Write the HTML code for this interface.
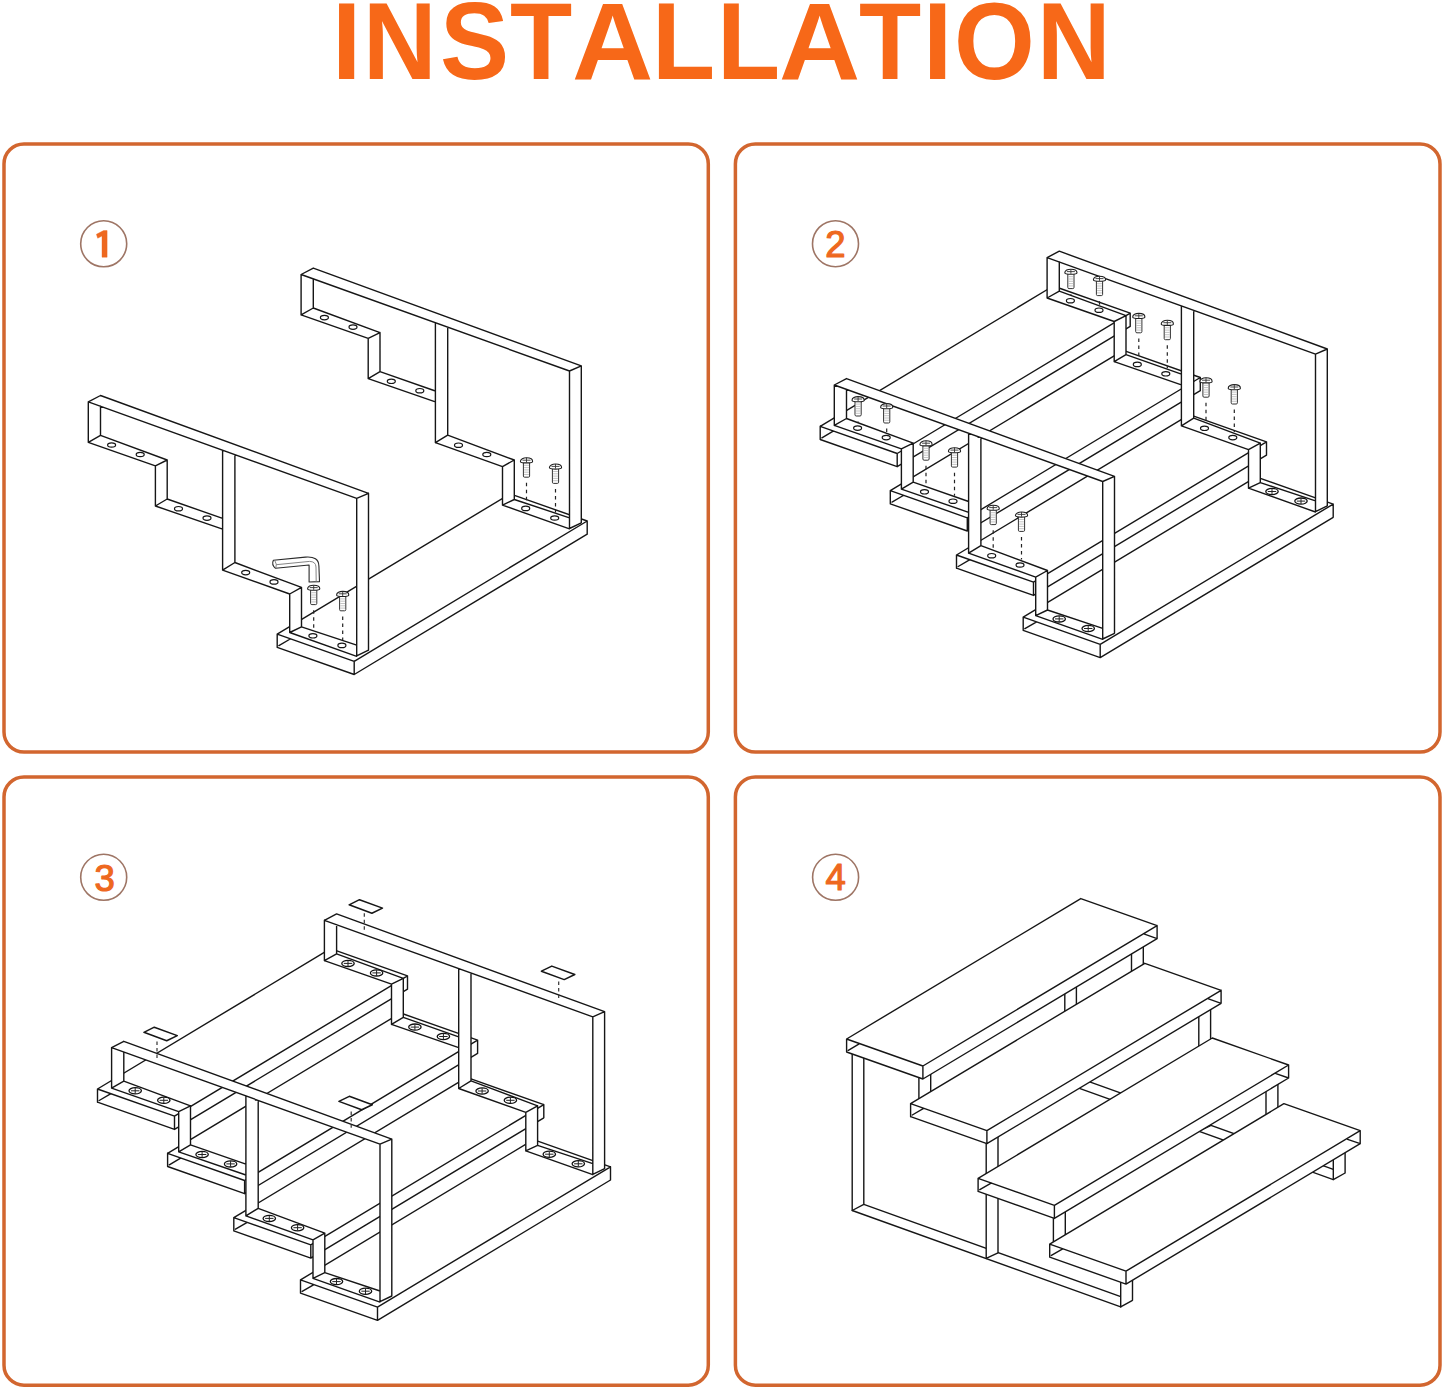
<!DOCTYPE html>
<html><head><meta charset="utf-8">
<style>
html,body{margin:0;padding:0;background:#fff;}
body{width:1445px;height:1390px;position:relative;overflow:hidden;font-family:"Liberation Sans",sans-serif;}
#title span{position:absolute;top:-13.8px;font-weight:bold;font-size:110px;color:#F76818;white-space:nowrap;line-height:1;transform-origin:0 0;}
svg{position:absolute;left:0;top:0;}
.n{font-family:"Liberation Sans",sans-serif;font-weight:normal;font-size:36.5px;fill:#EE681F;stroke:#EE681F;stroke-width:1.2px;stroke-linejoin:round;}
.wf{fill:#fff;stroke:none;}
.ln{fill:none;stroke:#161616;stroke-width:1.4;stroke-linejoin:round;stroke-linecap:round;}
.hl{fill:#fff;stroke:#161616;stroke-width:1.2;}
.pd{fill:#fff;stroke:#161616;stroke-width:1.5;stroke-linejoin:round;}
.ds2{fill:none;stroke:#333;stroke-width:1.2;stroke-dasharray:3.5,3;}
.ds{fill:none;stroke:#222;stroke-width:1.2;stroke-dasharray:3.5,3.5;}
</style></head><body>
<div id="title"><span style="left:331.9px;transform:scaleX(0.956)">I</span><span style="left:363.1px;transform:scaleX(0.926)">N</span><span style="left:439.5px;transform:scaleX(0.941)">S</span><span style="left:510.3px;transform:scaleX(0.926)">T</span><span style="left:571.7px;transform:scaleX(1.023)">A</span><span style="left:652.4px;transform:scaleX(0.939)">L</span><span style="left:717.4px;transform:scaleX(0.939)">L</span><span style="left:778.5px;transform:scaleX(1.022)">A</span><span style="left:859.2px;transform:scaleX(0.926)">T</span><span style="left:923.1px;transform:scaleX(0.956)">I</span><span style="left:954.2px;transform:scaleX(0.944)">O</span><span style="left:1036.7px;transform:scaleX(0.926)">N</span></div>
<svg width="1445" height="1390" viewBox="0 0 1445 1390">
<defs>
<g id="screw">
<path d="M-3.1,2L-3.1,15.2Q-3.1,16.4 -1.9,16.4L1.9,16.4Q3.1,16.4 3.1,15.2L3.1,2" fill="#fff" stroke="#333" stroke-width="1"/>
<path d="M-2.4,4.5h4.8M-2.4,6.8h4.8M-2.4,9.1h4.8M-2.4,11.4h4.8M-2.4,13.7h4.8" stroke="#aaa" stroke-width="0.7"/>
<path d="M-6.1,0.6C-6.1,-4.2 6.1,-4.2 6.1,0.6C6.1,2.6 -6.1,2.6 -6.1,0.6Z" fill="#fff" stroke="#1e1e1e" stroke-width="1.1"/>
<path d="M-4,-0.6h8M0,-3v4.6" stroke="#333" stroke-width="0.9"/>
</g>
<g id="head">
<ellipse cx="0" cy="0" rx="6.2" ry="3.1" fill="#fff" stroke="#111" stroke-width="1.3"/>
<path d="M-4.2,0h8.4M0,-2.8v5.6" stroke="#222" stroke-width="1"/>
</g>
</defs>
<g fill="none" stroke="#D2662F" stroke-width="3.5">
<rect x="4" y="144" width="704.3" height="608" rx="20"/>
<rect x="735.4" y="144" width="704.6" height="608" rx="20"/>
<rect x="4" y="777" width="704.3" height="608.2" rx="20"/>
<rect x="735.4" y="777" width="704.6" height="608.2" rx="20"/>
</g>
<g fill="none" stroke="#9E7565" stroke-width="1.6">
<circle cx="103.7" cy="243.8" r="23"/>
<circle cx="835.5" cy="243.7" r="23"/>
<circle cx="103.7" cy="877.3" r="23"/>
<circle cx="835.6" cy="877.3" r="23"/>
</g>
<path d="M96.4,234.3L103.6,230.6L107.1,230.6L107.1,257.2L102,257.2L102,236L97.7,238.2Z" fill="#EE681F" stroke="#EE681F" stroke-width="0.4"/>
<text class="n" x="835.5" y="256.5" text-anchor="middle">2</text>
<text class="n" x="104.7" y="890.5" text-anchor="middle">3</text>
<text class="n" x="835.6" y="890.2" text-anchor="middle">4</text>
<!-- P1 -->
<polygon class="wf" points="277.2,634.1 277.2,647.3 354.2,674.5 587.2,534.2 587.2,521.0 510.2,493.8"/>
<path class="ln" d="M277.2,634.1L354.2,661.3M354.2,661.3L354.2,674.5M354.2,674.5L277.2,647.3M277.2,647.3L277.2,634.1M278.9,645.6L290.2,639.0M277.2,634.1L510.2,493.8M354.2,661.3L587.2,521.0M354.2,674.5L587.2,534.2M587.2,521.0L587.2,534.2M510.2,493.8L587.2,521.0"/>
<polygon class="wf" points="301.1,274.5 313.3,268.1 581.3,365.9 569.5,371.0"/>
<polygon class="wf" points="301.1,274.5 313.3,278.9 313.3,308.0 301.1,314.9"/>
<polygon class="wf" points="301.1,314.9 313.3,308.0 380.0,332.6 368.2,338.4"/>
<polygon class="wf" points="368.2,338.4 380.0,332.6 380.0,371.6 368.2,378.6"/>
<polygon class="wf" points="368.2,378.6 380.0,371.6 435.4,391.0 435.4,401.8"/>
<polygon class="wf" points="435.4,323.2 447.7,328.5 447.7,435.1 435.4,442.7"/>
<polygon class="wf" points="435.4,442.7 447.7,435.1 514.3,460.0 502.5,466.6"/>
<polygon class="wf" points="502.5,466.6 514.3,460.0 514.3,499.5 502.5,505.1"/>
<polygon class="wf" points="502.5,505.1 514.3,499.5 569.5,517.8 569.5,528.9"/>
<polygon class="wf" points="569.5,371.0 581.3,365.9 581.3,522.8 569.5,528.5"/>
<path class="ln" d="M313.3,268.1L581.3,365.9M301.1,274.5L569.5,371.0M301.1,274.5L313.3,268.1M569.5,371.0L581.3,365.9M301.1,274.5L301.1,314.9M313.3,278.9L313.3,308.0M301.1,314.9L313.3,308.0M313.3,308.0L380.0,332.6M301.1,314.9L368.2,338.4M368.2,338.4L380.0,332.6M368.2,338.4L368.2,378.6M380.0,332.6L380.0,371.6M368.2,378.6L380.0,371.6M380.0,371.6L435.4,391.0M368.2,378.6L435.4,401.8M435.4,323.2L435.4,442.7M447.7,328.5L447.7,435.1M435.4,442.7L447.7,435.1M447.7,435.1L514.3,460.0M435.4,442.7L502.5,466.6M502.5,466.6L514.3,460.0M502.5,466.6L502.5,505.1M514.3,460.0L514.3,499.5M502.5,505.1L514.3,499.5M514.3,499.5L569.5,517.8M502.5,505.1L569.5,528.9M569.5,371.0L569.5,528.5M581.3,365.9L581.3,522.8M569.5,528.5L581.3,522.8"/>
<ellipse class="hl" cx="324.4" cy="317.6" rx="4" ry="2.2"/>
<ellipse class="hl" cx="353.0" cy="327.1" rx="4" ry="2.2"/>
<ellipse class="hl" cx="391.3" cy="381.3" rx="4" ry="2.2"/>
<ellipse class="hl" cx="419.8" cy="390.7" rx="4" ry="2.2"/>
<ellipse class="hl" cx="458.5" cy="445.2" rx="4" ry="2.2"/>
<ellipse class="hl" cx="486.8" cy="454.5" rx="4" ry="2.2"/>
<ellipse class="hl" cx="525.7" cy="508.4" rx="4" ry="2.2"/>
<ellipse class="hl" cx="554.7" cy="518.0" rx="4" ry="2.2"/>
<polygon class="wf" points="88.3,401.9 100.5,395.5 368.5,493.3 356.7,498.4"/>
<polygon class="wf" points="88.3,401.9 100.5,406.3 100.5,435.4 88.3,442.3"/>
<polygon class="wf" points="88.3,442.3 100.5,435.4 167.2,460.0 155.4,465.8"/>
<polygon class="wf" points="155.4,465.8 167.2,460.0 167.2,499.0 155.4,506.0"/>
<polygon class="wf" points="155.4,506.0 167.2,499.0 222.6,518.4 222.6,529.2"/>
<polygon class="wf" points="222.6,450.6 234.9,455.9 234.9,562.5 222.6,570.1"/>
<polygon class="wf" points="222.6,570.1 234.9,562.5 301.5,587.4 289.7,594.0"/>
<polygon class="wf" points="289.7,594.0 301.5,587.4 301.5,626.9 289.7,632.5"/>
<polygon class="wf" points="289.7,632.5 301.5,626.9 356.7,645.2 356.7,656.3"/>
<polygon class="wf" points="356.7,498.4 368.5,493.3 368.5,650.2 356.7,655.9"/>
<path class="ln" d="M100.5,395.5L368.5,493.3M88.3,401.9L356.7,498.4M88.3,401.9L100.5,395.5M356.7,498.4L368.5,493.3M88.3,401.9L88.3,442.3M100.5,406.3L100.5,435.4M88.3,442.3L100.5,435.4M100.5,435.4L167.2,460.0M88.3,442.3L155.4,465.8M155.4,465.8L167.2,460.0M155.4,465.8L155.4,506.0M167.2,460.0L167.2,499.0M155.4,506.0L167.2,499.0M167.2,499.0L222.6,518.4M155.4,506.0L222.6,529.2M222.6,450.6L222.6,570.1M234.9,455.9L234.9,562.5M222.6,570.1L234.9,562.5M234.9,562.5L301.5,587.4M222.6,570.1L289.7,594.0M289.7,594.0L301.5,587.4M289.7,594.0L289.7,632.5M301.5,587.4L301.5,626.9M289.7,632.5L301.5,626.9M301.5,626.9L356.7,645.2M289.7,632.5L356.7,656.3M356.7,498.4L356.7,655.9M368.5,493.3L368.5,650.2M356.7,655.9L368.5,650.2"/>
<ellipse class="hl" cx="111.6" cy="445.0" rx="4" ry="2.2"/>
<ellipse class="hl" cx="140.2" cy="454.5" rx="4" ry="2.2"/>
<ellipse class="hl" cx="178.5" cy="508.7" rx="4" ry="2.2"/>
<ellipse class="hl" cx="207.0" cy="518.1" rx="4" ry="2.2"/>
<ellipse class="hl" cx="245.7" cy="572.6" rx="4" ry="2.2"/>
<ellipse class="hl" cx="274.0" cy="581.9" rx="4" ry="2.2"/>
<ellipse class="hl" cx="312.9" cy="635.8" rx="4" ry="2.2"/>
<ellipse class="hl" cx="341.9" cy="645.4" rx="4" ry="2.2"/>
<path class="ds" d="M313.7,610.2L313.7,630.3"/>
<use href="#screw" x="313.7" y="588.2"/>
<path class="ds" d="M526.5,482.8L526.5,502.9"/>
<use href="#screw" x="526.5" y="460.8"/>
<path class="ds" d="M342.7,616.4L342.7,639.9"/>
<use href="#screw" x="342.7" y="594.4"/>
<path class="ds" d="M555.5,489.0L555.5,512.5"/>
<use href="#screw" x="555.5" y="467.0"/>
<path d="M273.4,560.2L305.4,557.1Q318.7,556 318.9,566L319.5,581.6L309.1,582L309.1,565L275.5,568.3Q271.2,564.5 273.4,560.2Z" fill="#fff" stroke="#2a2a2a" stroke-width="1.1" stroke-linejoin="round"/>
<path d="M276.3,564.7L309.5,561.4Q315.8,561.5 316,567L316.2,582M274.6,560.1Q277.4,564.3 275.8,568.2" fill="none" stroke="#777" stroke-width="0.9"/>
<!-- P2 -->
<polygon class="wf" points="820.2,426.3 820.2,439.5 897.2,466.7 1130.2,326.4 1130.2,313.2 1053.2,286.0"/>
<path class="ln" d="M820.2,426.3L897.2,453.5M897.2,453.5L897.2,466.7M897.2,466.7L820.2,439.5M820.2,439.5L820.2,426.3M821.9,437.8L833.2,431.2M820.2,426.3L1053.2,286.0M897.2,453.5L1130.2,313.2M897.2,466.7L1130.2,326.4M1130.2,313.2L1130.2,326.4M1053.2,286.0L1130.2,313.2"/>
<polygon class="wf" points="890.3,490.6 890.3,503.8 967.3,531.0 1200.3,390.7 1200.3,377.5 1123.3,350.3"/>
<path class="ln" d="M890.3,490.6L967.3,517.8M967.3,517.8L967.3,531.0M967.3,531.0L890.3,503.8M890.3,503.8L890.3,490.6M892.0,502.1L903.3,495.5M890.3,490.6L1123.3,350.3M967.3,517.8L1200.3,377.5M967.3,531.0L1200.3,390.7M1200.3,377.5L1200.3,390.7M1123.3,350.3L1200.3,377.5"/>
<polygon class="wf" points="956.5,555.0 956.5,568.2 1033.5,595.4 1266.5,455.1 1266.5,441.9 1189.5,414.7"/>
<path class="ln" d="M956.5,555.0L1033.5,582.2M1033.5,582.2L1033.5,595.4M1033.5,595.4L956.5,568.2M956.5,568.2L956.5,555.0M958.2,566.5L969.5,559.9M956.5,555.0L1189.5,414.7M1033.5,582.2L1266.5,441.9M1033.5,595.4L1266.5,455.1M1266.5,441.9L1266.5,455.1M1189.5,414.7L1266.5,441.9"/>
<polygon class="wf" points="1023.2,617.2 1023.2,630.4 1100.2,657.6 1333.2,517.3 1333.2,504.1 1256.2,476.9"/>
<path class="ln" d="M1023.2,617.2L1100.2,644.4M1100.2,644.4L1100.2,657.6M1100.2,657.6L1023.2,630.4M1023.2,630.4L1023.2,617.2M1024.9,628.7L1036.2,622.1M1023.2,617.2L1256.2,476.9M1100.2,644.4L1333.2,504.1M1100.2,657.6L1333.2,517.3M1333.2,504.1L1333.2,517.3M1256.2,476.9L1333.2,504.1"/>
<polygon class="wf" points="1047.1,257.6 1059.3,251.2 1327.3,349.0 1315.5,354.1"/>
<polygon class="wf" points="1047.1,257.6 1059.3,262.0 1059.3,291.1 1047.1,298.0"/>
<polygon class="wf" points="1047.1,298.0 1059.3,291.1 1126.0,315.7 1114.2,321.5"/>
<polygon class="wf" points="1114.2,321.5 1126.0,315.7 1126.0,354.7 1114.2,361.7"/>
<polygon class="wf" points="1114.2,361.7 1126.0,354.7 1181.4,374.1 1181.4,384.9"/>
<polygon class="wf" points="1181.4,306.3 1193.7,311.6 1193.7,418.2 1181.4,425.8"/>
<polygon class="wf" points="1181.4,425.8 1193.7,418.2 1260.3,443.1 1248.5,449.7"/>
<polygon class="wf" points="1248.5,449.7 1260.3,443.1 1260.3,482.6 1248.5,488.2"/>
<polygon class="wf" points="1248.5,488.2 1260.3,482.6 1315.5,500.9 1315.5,512.0"/>
<polygon class="wf" points="1315.5,354.1 1327.3,349.0 1327.3,505.9 1315.5,511.6"/>
<path class="ln" d="M1059.3,251.2L1327.3,349.0M1047.1,257.6L1315.5,354.1M1047.1,257.6L1059.3,251.2M1315.5,354.1L1327.3,349.0M1047.1,257.6L1047.1,298.0M1059.3,262.0L1059.3,291.1M1047.1,298.0L1059.3,291.1M1059.3,291.1L1126.0,315.7M1047.1,298.0L1114.2,321.5M1114.2,321.5L1126.0,315.7M1114.2,321.5L1114.2,361.7M1126.0,315.7L1126.0,354.7M1114.2,361.7L1126.0,354.7M1126.0,354.7L1181.4,374.1M1114.2,361.7L1181.4,384.9M1181.4,306.3L1181.4,425.8M1193.7,311.6L1193.7,418.2M1181.4,425.8L1193.7,418.2M1193.7,418.2L1260.3,443.1M1181.4,425.8L1248.5,449.7M1248.5,449.7L1260.3,443.1M1248.5,449.7L1248.5,488.2M1260.3,443.1L1260.3,482.6M1248.5,488.2L1260.3,482.6M1260.3,482.6L1315.5,500.9M1248.5,488.2L1315.5,512.0M1315.5,354.1L1315.5,511.6M1327.3,349.0L1327.3,505.9M1315.5,511.6L1327.3,505.9"/>
<ellipse class="hl" cx="1070.4" cy="300.7" rx="4" ry="2.2"/>
<ellipse class="hl" cx="1099.0" cy="310.2" rx="4" ry="2.2"/>
<ellipse class="hl" cx="1137.3" cy="364.4" rx="4" ry="2.2"/>
<ellipse class="hl" cx="1165.8" cy="373.8" rx="4" ry="2.2"/>
<ellipse class="hl" cx="1204.5" cy="428.3" rx="4" ry="2.2"/>
<ellipse class="hl" cx="1232.8" cy="437.6" rx="4" ry="2.2"/>
<ellipse class="hl" cx="1271.7" cy="491.5" rx="4" ry="2.2"/>
<ellipse class="hl" cx="1300.7" cy="501.1" rx="4" ry="2.2"/>
<polygon class="wf" points="834.3,385.0 846.5,378.6 1114.5,476.4 1102.7,481.5"/>
<polygon class="wf" points="834.3,385.0 846.5,389.4 846.5,418.5 834.3,425.4"/>
<polygon class="wf" points="834.3,425.4 846.5,418.5 913.2,443.1 901.4,448.9"/>
<polygon class="wf" points="901.4,448.9 913.2,443.1 913.2,482.1 901.4,489.1"/>
<polygon class="wf" points="901.4,489.1 913.2,482.1 968.6,501.5 968.6,512.3"/>
<polygon class="wf" points="968.6,433.7 980.9,439.0 980.9,545.6 968.6,553.2"/>
<polygon class="wf" points="968.6,553.2 980.9,545.6 1047.5,570.5 1035.7,577.1"/>
<polygon class="wf" points="1035.7,577.1 1047.5,570.5 1047.5,610.0 1035.7,615.6"/>
<polygon class="wf" points="1035.7,615.6 1047.5,610.0 1102.7,628.3 1102.7,639.4"/>
<polygon class="wf" points="1102.7,481.5 1114.5,476.4 1114.5,633.3 1102.7,639.0"/>
<path class="ln" d="M846.5,378.6L1114.5,476.4M834.3,385.0L1102.7,481.5M834.3,385.0L846.5,378.6M1102.7,481.5L1114.5,476.4M834.3,385.0L834.3,425.4M846.5,389.4L846.5,418.5M834.3,425.4L846.5,418.5M846.5,418.5L913.2,443.1M834.3,425.4L901.4,448.9M901.4,448.9L913.2,443.1M901.4,448.9L901.4,489.1M913.2,443.1L913.2,482.1M901.4,489.1L913.2,482.1M913.2,482.1L968.6,501.5M901.4,489.1L968.6,512.3M968.6,433.7L968.6,553.2M980.9,439.0L980.9,545.6M968.6,553.2L980.9,545.6M980.9,545.6L1047.5,570.5M968.6,553.2L1035.7,577.1M1035.7,577.1L1047.5,570.5M1035.7,577.1L1035.7,615.6M1047.5,570.5L1047.5,610.0M1035.7,615.6L1047.5,610.0M1047.5,610.0L1102.7,628.3M1035.7,615.6L1102.7,639.4M1102.7,481.5L1102.7,639.0M1114.5,476.4L1114.5,633.3M1102.7,639.0L1114.5,633.3"/>
<ellipse class="hl" cx="857.6" cy="428.1" rx="4" ry="2.2"/>
<ellipse class="hl" cx="886.2" cy="437.6" rx="4" ry="2.2"/>
<ellipse class="hl" cx="924.5" cy="491.8" rx="4" ry="2.2"/>
<ellipse class="hl" cx="953.0" cy="501.2" rx="4" ry="2.2"/>
<ellipse class="hl" cx="991.7" cy="555.7" rx="4" ry="2.2"/>
<ellipse class="hl" cx="1020.0" cy="565.0" rx="4" ry="2.2"/>
<ellipse class="hl" cx="1058.9" cy="618.9" rx="4" ry="2.2"/>
<ellipse class="hl" cx="1087.9" cy="628.5" rx="4" ry="2.2"/>
<path class="ds" d="M858.1,421.6L858.1,422.6"/>
<use href="#screw" x="858.1" y="399.6"/>
<path class="ds" d="M1070.9,294.2L1070.9,295.2"/>
<use href="#screw" x="1070.9" y="272.2"/>
<path class="ds" d="M886.7,428.6L886.7,432.1"/>
<use href="#screw" x="886.7" y="406.6"/>
<path class="ds" d="M1099.5,301.2L1099.5,304.7"/>
<use href="#screw" x="1099.5" y="279.2"/>
<path class="ds" d="M926.0,465.8L926.0,486.3"/>
<use href="#screw" x="926.0" y="443.8"/>
<path class="ds" d="M1138.8,338.4L1138.8,358.9"/>
<use href="#screw" x="1138.8" y="316.4"/>
<path class="ds" d="M954.5,472.7L954.5,495.7"/>
<use href="#screw" x="954.5" y="450.7"/>
<path class="ds" d="M1167.3,345.3L1167.3,368.3"/>
<use href="#screw" x="1167.3" y="323.3"/>
<path class="ds" d="M993.2,530.2L993.2,550.2"/>
<use href="#screw" x="993.2" y="508.2"/>
<path class="ds" d="M1206.0,402.8L1206.0,422.8"/>
<use href="#screw" x="1206.0" y="380.8"/>
<path class="ds" d="M1021.5,537.0L1021.5,559.5"/>
<use href="#screw" x="1021.5" y="515.0"/>
<path class="ds" d="M1234.3,409.6L1234.3,432.1"/>
<use href="#screw" x="1234.3" y="387.6"/>
<use href="#head" x="1059.2" y="618.9"/>
<use href="#head" x="1272.0" y="491.5"/>
<use href="#head" x="1088.2" y="628.5"/>
<use href="#head" x="1301.0" y="501.1"/>
<!-- P3 -->
<polygon class="wf" points="97.5,1089.0 97.5,1102.2 174.5,1129.4 407.5,989.1 407.5,975.9 330.5,948.7"/>
<path class="ln" d="M97.5,1089.0L174.5,1116.2M174.5,1116.2L174.5,1129.4M174.5,1129.4L97.5,1102.2M97.5,1102.2L97.5,1089.0M99.2,1100.5L110.5,1093.9M97.5,1089.0L330.5,948.7M174.5,1116.2L407.5,975.9M174.5,1129.4L407.5,989.1M407.5,975.9L407.5,989.1M330.5,948.7L407.5,975.9"/>
<polygon class="wf" points="167.6,1153.3 167.6,1166.5 244.6,1193.7 477.6,1053.4 477.6,1040.2 400.6,1013.0"/>
<path class="ln" d="M167.6,1153.3L244.6,1180.5M244.6,1180.5L244.6,1193.7M244.6,1193.7L167.6,1166.5M167.6,1166.5L167.6,1153.3M169.3,1164.8L180.6,1158.2M167.6,1153.3L400.6,1013.0M244.6,1180.5L477.6,1040.2M244.6,1193.7L477.6,1053.4M477.6,1040.2L477.6,1053.4M400.6,1013.0L477.6,1040.2"/>
<polygon class="wf" points="233.8,1217.7 233.8,1230.9 310.8,1258.1 543.8,1117.8 543.8,1104.6 466.8,1077.4"/>
<path class="ln" d="M233.8,1217.7L310.8,1244.9M310.8,1244.9L310.8,1258.1M310.8,1258.1L233.8,1230.9M233.8,1230.9L233.8,1217.7M235.5,1229.2L246.8,1222.6M233.8,1217.7L466.8,1077.4M310.8,1244.9L543.8,1104.6M310.8,1258.1L543.8,1117.8M543.8,1104.6L543.8,1117.8M466.8,1077.4L543.8,1104.6"/>
<polygon class="wf" points="300.5,1279.9 300.5,1293.1 377.5,1320.3 610.5,1180.0 610.5,1166.8 533.5,1139.6"/>
<path class="ln" d="M300.5,1279.9L377.5,1307.1M377.5,1307.1L377.5,1320.3M377.5,1320.3L300.5,1293.1M300.5,1293.1L300.5,1279.9M302.2,1291.4L313.5,1284.8M300.5,1279.9L533.5,1139.6M377.5,1307.1L610.5,1166.8M377.5,1320.3L610.5,1180.0M610.5,1166.8L610.5,1180.0M533.5,1139.6L610.5,1166.8"/>
<polygon class="wf" points="324.4,920.3 336.6,913.9 604.6,1011.7 592.8,1016.8"/>
<polygon class="wf" points="324.4,920.3 336.6,924.7 336.6,953.8 324.4,960.7"/>
<polygon class="wf" points="324.4,960.7 336.6,953.8 403.3,978.4 391.5,984.2"/>
<polygon class="wf" points="391.5,984.2 403.3,978.4 403.3,1017.4 391.5,1024.4"/>
<polygon class="wf" points="391.5,1024.4 403.3,1017.4 458.7,1036.8 458.7,1047.6"/>
<polygon class="wf" points="458.7,969.0 471.0,974.3 471.0,1080.9 458.7,1088.5"/>
<polygon class="wf" points="458.7,1088.5 471.0,1080.9 537.6,1105.8 525.8,1112.4"/>
<polygon class="wf" points="525.8,1112.4 537.6,1105.8 537.6,1145.3 525.8,1150.9"/>
<polygon class="wf" points="525.8,1150.9 537.6,1145.3 592.8,1163.6 592.8,1174.7"/>
<polygon class="wf" points="592.8,1016.8 604.6,1011.7 604.6,1168.6 592.8,1174.3"/>
<path class="ln" d="M336.6,913.9L604.6,1011.7M324.4,920.3L592.8,1016.8M324.4,920.3L336.6,913.9M592.8,1016.8L604.6,1011.7M324.4,920.3L324.4,960.7M336.6,924.7L336.6,953.8M324.4,960.7L336.6,953.8M336.6,953.8L403.3,978.4M324.4,960.7L391.5,984.2M391.5,984.2L403.3,978.4M391.5,984.2L391.5,1024.4M403.3,978.4L403.3,1017.4M391.5,1024.4L403.3,1017.4M403.3,1017.4L458.7,1036.8M391.5,1024.4L458.7,1047.6M458.7,969.0L458.7,1088.5M471.0,974.3L471.0,1080.9M458.7,1088.5L471.0,1080.9M471.0,1080.9L537.6,1105.8M458.7,1088.5L525.8,1112.4M525.8,1112.4L537.6,1105.8M525.8,1112.4L525.8,1150.9M537.6,1105.8L537.6,1145.3M525.8,1150.9L537.6,1145.3M537.6,1145.3L592.8,1163.6M525.8,1150.9L592.8,1174.7M592.8,1016.8L592.8,1174.3M604.6,1011.7L604.6,1168.6M592.8,1174.3L604.6,1168.6"/>
<polygon class="wf" points="111.6,1047.7 123.8,1041.3 391.8,1139.1 380.0,1144.2"/>
<polygon class="wf" points="111.6,1047.7 123.8,1052.1 123.8,1081.2 111.6,1088.1"/>
<polygon class="wf" points="111.6,1088.1 123.8,1081.2 190.5,1105.8 178.7,1111.6"/>
<polygon class="wf" points="178.7,1111.6 190.5,1105.8 190.5,1144.8 178.7,1151.8"/>
<polygon class="wf" points="178.7,1151.8 190.5,1144.8 245.9,1164.2 245.9,1175.0"/>
<polygon class="wf" points="245.9,1096.4 258.2,1101.7 258.2,1208.3 245.9,1215.9"/>
<polygon class="wf" points="245.9,1215.9 258.2,1208.3 324.8,1233.2 313.0,1239.8"/>
<polygon class="wf" points="313.0,1239.8 324.8,1233.2 324.8,1272.7 313.0,1278.3"/>
<polygon class="wf" points="313.0,1278.3 324.8,1272.7 380.0,1291.0 380.0,1302.1"/>
<polygon class="wf" points="380.0,1144.2 391.8,1139.1 391.8,1296.0 380.0,1301.7"/>
<path class="ln" d="M123.8,1041.3L391.8,1139.1M111.6,1047.7L380.0,1144.2M111.6,1047.7L123.8,1041.3M380.0,1144.2L391.8,1139.1M111.6,1047.7L111.6,1088.1M123.8,1052.1L123.8,1081.2M111.6,1088.1L123.8,1081.2M123.8,1081.2L190.5,1105.8M111.6,1088.1L178.7,1111.6M178.7,1111.6L190.5,1105.8M178.7,1111.6L178.7,1151.8M190.5,1105.8L190.5,1144.8M178.7,1151.8L190.5,1144.8M190.5,1144.8L245.9,1164.2M178.7,1151.8L245.9,1175.0M245.9,1096.4L245.9,1215.9M258.2,1101.7L258.2,1208.3M245.9,1215.9L258.2,1208.3M258.2,1208.3L324.8,1233.2M245.9,1215.9L313.0,1239.8M313.0,1239.8L324.8,1233.2M313.0,1239.8L313.0,1278.3M324.8,1233.2L324.8,1272.7M313.0,1278.3L324.8,1272.7M324.8,1272.7L380.0,1291.0M313.0,1278.3L380.0,1302.1M380.0,1144.2L380.0,1301.7M391.8,1139.1L391.8,1296.0M380.0,1301.7L391.8,1296.0"/>
<use href="#head" x="135.2" y="1090.8"/>
<use href="#head" x="348.0" y="963.4"/>
<use href="#head" x="163.8" y="1100.3"/>
<use href="#head" x="376.6" y="972.9"/>
<use href="#head" x="202.1" y="1154.5"/>
<use href="#head" x="414.9" y="1027.1"/>
<use href="#head" x="230.6" y="1163.9"/>
<use href="#head" x="443.4" y="1036.5"/>
<use href="#head" x="269.3" y="1218.4"/>
<use href="#head" x="482.1" y="1091.0"/>
<use href="#head" x="297.6" y="1227.7"/>
<use href="#head" x="510.4" y="1100.3"/>
<use href="#head" x="336.5" y="1281.6"/>
<use href="#head" x="549.3" y="1154.2"/>
<use href="#head" x="365.5" y="1291.2"/>
<use href="#head" x="578.3" y="1163.8"/>
<polygon class="pd" points="143.9,1032.3 154.3,1027.2 177.3,1035.6 166.7,1040.7"/><path class="ds2" d="M157.0,1041.6L157.0,1059.0"/>
<polygon class="pd" points="338.9,1101.4 349.3,1096.3 372.3,1104.7 361.7,1109.8"/><path class="ds2" d="M351.2,1111.6L351.2,1127.8"/>
<polygon class="pd" points="349.1,904.8 359.5,899.7 382.5,908.1 371.9,913.2"/><path class="ds2" d="M364.3,913.3L364.3,929.9"/>
<polygon class="pd" points="541.4,971.2 551.8,966.1 574.8,974.5 564.2,979.6"/><path class="ds2" d="M558.7,981.6L558.7,998.6"/>
<!-- P4 -->
<path class="ln" d="M1064.8,1083.2L1333.3,1179.6M1076.4,1077.1L1333.3,1169.3"/>
<polygon class="wf" points="1064.8,912.7 1076.4,912.7 1076.4,1077.1 1064.8,1083.2"/><path class="ln" d="M1064.8,912.7L1064.8,1083.2M1076.4,912.7L1076.4,1077.1M1064.8,1083.2L1076.4,1077.1"/>
<polygon class="wf" points="1198.8,1007.7 1210.6,1007.7 1210.6,1125.5 1198.8,1131.1"/><path class="ln" d="M1198.8,1007.7L1198.8,1131.1M1210.6,1007.7L1210.6,1125.5M1198.8,1131.1L1210.6,1125.5"/>
<polygon class="wf" points="1131.5,942.7 1143.3,942.7 1143.3,972.7 1131.5,977.7"/><path class="ln" d="M1131.5,942.7L1131.5,977.7M1143.3,942.7L1143.3,972.7"/>
<polygon class="wf" points="1266.0,1077.7 1277.9,1077.7 1277.9,1114.7 1266.0,1120.7"/><path class="ln" d="M1266.0,1077.7L1266.0,1120.7M1277.9,1077.7L1277.9,1114.7"/>
<polygon class="wf" points="1333.3,1142.7 1345.1,1142.7 1345.1,1173.0 1333.3,1179.6"/><path class="ln" d="M1333.3,1142.7L1333.3,1179.6M1345.1,1142.7L1345.1,1173.0M1333.3,1179.6L1345.1,1173.0"/>
<path class="ln" d="M852.2,1210.5L1120.7,1306.9M863.8,1204.4L1120.7,1296.6"/>
<polygon class="wf" points="852.2,1040.0 863.8,1040.0 863.8,1204.4 852.2,1210.5"/><path class="ln" d="M852.2,1040.0L852.2,1210.5M863.8,1040.0L863.8,1204.4M852.2,1210.5L863.8,1204.4"/>
<polygon class="wf" points="986.2,1135.0 998.0,1135.0 998.0,1252.8 986.2,1258.4"/><path class="ln" d="M986.2,1135.0L986.2,1258.4M998.0,1135.0L998.0,1252.8M986.2,1258.4L998.0,1252.8"/>
<polygon class="wf" points="918.9,1070.0 930.7,1070.0 930.7,1100.0 918.9,1105.0"/><path class="ln" d="M918.9,1070.0L918.9,1105.0M930.7,1070.0L930.7,1100.0"/>
<polygon class="wf" points="1053.4,1205.0 1065.3,1205.0 1065.3,1242.0 1053.4,1248.0"/><path class="ln" d="M1053.4,1205.0L1053.4,1248.0M1065.3,1205.0L1065.3,1242.0"/>
<polygon class="wf" points="1120.7,1270.0 1132.5,1270.0 1132.5,1300.3 1120.7,1306.9"/><path class="ln" d="M1120.7,1270.0L1120.7,1306.9M1132.5,1270.0L1132.5,1300.3M1120.7,1306.9L1132.5,1300.3"/>
<polygon class="wf" points="846.6,1039.0 846.6,1052.0 922.9,1079.0 1157.1,938.6 1157.1,925.6 1080.8,898.6"/>
<path class="ln" d="M846.6,1039.0L922.9,1066.0M922.9,1066.0L922.9,1079.0M922.9,1079.0L846.6,1052.0M846.6,1052.0L846.6,1039.0M848.3,1050.3L859.6,1043.7M846.6,1039.0L1080.8,898.6M922.9,1066.0L1157.1,925.6M922.9,1079.0L1157.1,938.6M1157.1,925.6L1157.1,938.6M1080.8,898.6L1157.1,925.6M1157.1,938.6L1144.5,934.2"/>
<polygon class="wf" points="910.6,1103.7 910.6,1116.7 986.9,1143.7 1221.1,1003.3 1221.1,990.3 1144.8,963.3"/>
<path class="ln" d="M910.6,1103.7L986.9,1130.7M986.9,1130.7L986.9,1143.7M986.9,1143.7L910.6,1116.7M910.6,1116.7L910.6,1103.7M912.3,1115.0L923.6,1108.4M910.6,1103.7L1144.8,963.3M986.9,1130.7L1221.1,990.3M986.9,1143.7L1221.1,1003.3M1221.1,990.3L1221.1,1003.3M1144.8,963.3L1221.1,990.3M1221.1,1003.3L1208.5,998.9"/>
<polygon class="wf" points="978.1,1178.4 978.1,1191.4 1054.4,1218.4 1288.6,1078.0 1288.6,1065.0 1212.3,1038.0"/>
<path class="ln" d="M978.1,1178.4L1054.4,1205.4M1054.4,1205.4L1054.4,1218.4M1054.4,1218.4L978.1,1191.4M978.1,1191.4L978.1,1178.4M979.8,1189.7L991.1,1183.1M978.1,1178.4L1212.3,1038.0M1054.4,1205.4L1288.6,1065.0M1054.4,1218.4L1288.6,1078.0M1288.6,1065.0L1288.6,1078.0M1212.3,1038.0L1288.6,1065.0M1288.6,1078.0L1276.0,1073.6"/>
<polygon class="wf" points="1049.7,1244.1 1049.7,1257.1 1126.0,1284.1 1360.2,1143.7 1360.2,1130.7 1283.9,1103.7"/>
<path class="ln" d="M1049.7,1244.1L1126.0,1271.1M1126.0,1271.1L1126.0,1284.1M1126.0,1284.1L1049.7,1257.1M1049.7,1257.1L1049.7,1244.1M1051.4,1255.4L1062.7,1248.8M1049.7,1244.1L1283.9,1103.7M1126.0,1271.1L1360.2,1130.7M1126.0,1284.1L1360.2,1143.7M1360.2,1130.7L1360.2,1143.7M1283.9,1103.7L1360.2,1130.7M1360.2,1143.7L1347.6,1139.3"/>
</svg>
</body></html>
